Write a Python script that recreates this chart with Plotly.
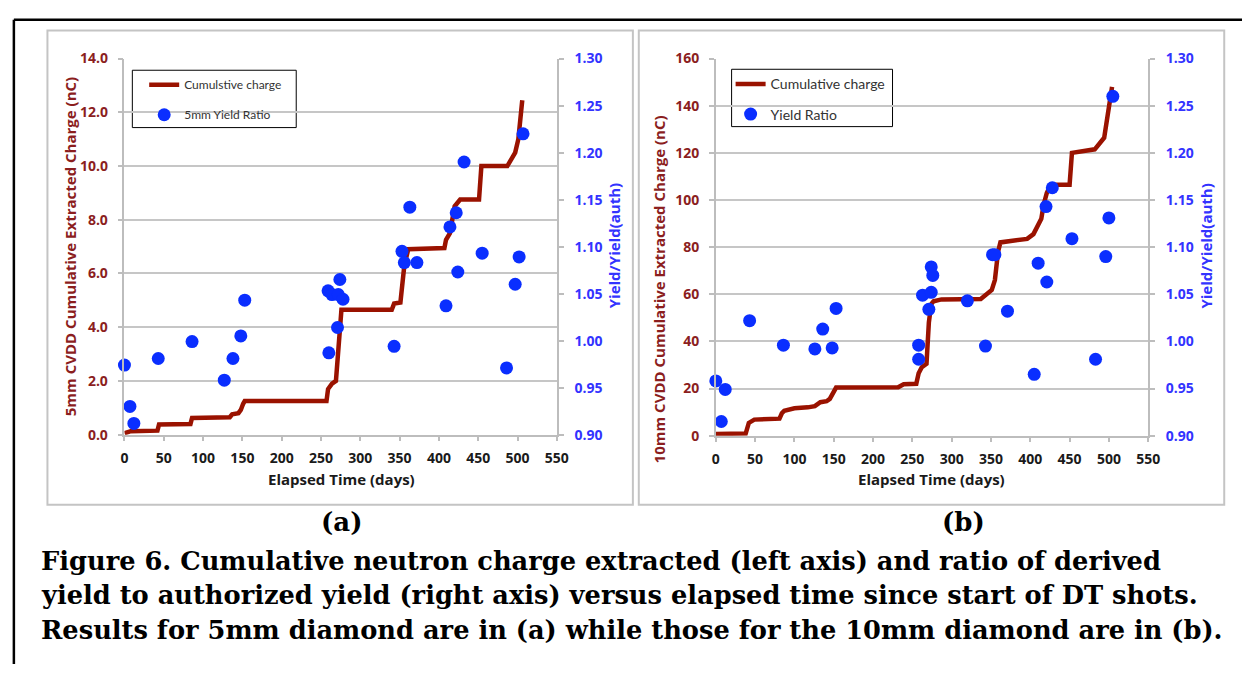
import plotly.graph_objects as go

W, H = 1254, 673

# ---------------- data: panel (a) 5mm ----------------
days_charge_a = [0, 8, 42, 44, 84, 86, 134, 137, 145, 148, 151, 153, 257, 259, 264, 269, 276,
                 340, 343, 351, 356, 361, 407, 409, 414, 417, 420, 427, 451, 454, 487, 497, 501, 506]
charge_a = [0.05, 0.13, 0.15, 0.38, 0.40, 0.62, 0.65, 0.76, 0.80, 0.92, 1.15, 1.25, 1.25, 1.70, 1.90, 2.00, 4.65,
            4.65, 4.88, 4.92, 6.30, 6.90, 6.95, 7.25, 7.50, 8.00, 8.50, 8.75, 8.75, 10.0, 10.0, 10.5, 11.0, 12.45]

days_ratio_a = [0, 7, 12, 43, 86, 127, 138, 148, 153, 259, 264, 274, 272, 278, 271, 260,
                343, 353, 356, 363, 372, 409, 414, 422, 424, 432, 455, 486, 497, 502, 507]
ratio_a = [0.974, 0.930, 0.912, 0.981, 0.999, 0.958, 0.981, 1.005, 1.043, 1.053, 1.049, 1.065, 1.049, 1.044,
           1.014, 0.987, 0.994, 1.095, 1.083, 1.142, 1.083, 1.037, 1.121, 1.136, 1.073, 1.190, 1.093,
           0.971, 1.060, 1.089, 1.220]

# ---------------- data: panel (b) 10mm ----------------
days_charge_b = [0, 38, 42, 49, 81, 84, 87, 100, 117, 126, 133, 141, 145, 153, 232, 239, 255, 258, 262, 268,
                 271, 274, 277, 287, 337, 341, 351, 355, 359, 362, 381, 396, 404, 409, 414, 417, 421, 426,
                 450, 453, 482, 494, 498, 504]
charge_b = [0.7, 0.9, 5.4, 6.8, 7.2, 9.5, 10.5, 11.6, 12.0, 12.5, 14.2, 14.6, 15.6, 20.4, 20.5, 21.8, 22.0, 26.5,
            29.0, 30.5, 48.0, 55.8, 57.0, 57.8, 58.0, 59.0, 61.8, 66.0, 78.0, 82.0, 83.0, 83.5, 85.5, 89.0,
            92.0, 98.0, 103.0, 106.5, 106.5, 120.0, 121.5, 126.4, 134.0, 148.0]

days_ratio_b = [0, 7, 12, 43, 86, 126, 136, 148, 153, 258, 258, 263, 274, 271, 274, 276, 320, 343, 352, 355,
                371, 405, 410, 420, 421, 428, 453, 483, 496, 500, 505]
ratio_b = [0.958, 0.915, 0.949, 1.022, 0.996, 0.992, 1.013, 0.993, 1.035, 0.996, 0.981, 1.049, 1.052, 1.034,
           1.079, 1.070, 1.043, 0.995, 1.092, 1.092, 1.032, 0.965, 1.083, 1.143, 1.063, 1.163, 1.109,
           0.981, 1.090, 1.131, 1.260]

x_ticks = list(range(0, 551, 50))

RED_LINE = "#9a1200"
RED_TXT = "#8b1e1e"
BLUE = "#0a2eff"
BLUE_TXT = "#3333ff"
GRID = "#c6c6c6"
AXL = "#bdbdbd"
FONT = "Open Sans"
LEG_FONT = "Lato"
CAP_FONT = "DejaVu Serif"


def px(x):
    return x / W


def py(y):
    return 1 - y / H


fig = go.Figure()

# panel (a)
fig.add_trace(go.Scatter(x=days_charge_a, y=charge_a, mode="lines", name="Cumulstive charge",
                         line=dict(color=RED_LINE, width=4.5), xaxis="x", yaxis="y",
                         legend="legend", legendgroup="a1", cliponaxis=False))
fig.add_trace(go.Scatter(x=days_ratio_a, y=ratio_a, mode="markers", name="5mm Yield Ratio",
                         marker=dict(color=BLUE, size=13), xaxis="x", yaxis="y2",
                         legend="legend", legendgroup="a2", cliponaxis=False))
# panel (b)
fig.add_trace(go.Scatter(x=days_charge_b, y=charge_b, mode="lines", name="Cumulative charge",
                         line=dict(color=RED_LINE, width=4.5), xaxis="x2", yaxis="y3",
                         legend="legend2", legendgroup="b1", cliponaxis=False))
fig.add_trace(go.Scatter(x=days_ratio_b, y=ratio_b, mode="markers", name="Yield Ratio",
                         marker=dict(color=BLUE, size=13), xaxis="x2", yaxis="y4",
                         legend="legend2", legendgroup="b2", cliponaxis=False))

xcommon = dict(range=[0, 550], tickvals=x_ticks, ticks="outside", ticklen=5, tickcolor=AXL, tickwidth=1.5,
               showline=True, linecolor=AXL, linewidth=1.5, showgrid=False, zeroline=False,
               ticklabelstandoff=5,
               tickfont=dict(family=FONT, size=14, color="#1a1a1a", weight="bold"), fixedrange=True)
ycommon = dict(ticks="outside", ticklen=5, tickcolor=AXL, tickwidth=1.5, showline=True, linecolor=AXL,
               linewidth=1.5, showgrid=True, gridcolor=GRID, gridwidth=1.5, zeroline=False,
               ticklabelstandoff=7,
               tickfont=dict(family=FONT, size=14, color=RED_TXT, weight="bold"))
y2common = dict(range=[0.9, 1.3], dtick=0.05, tickformat=".2f", side="right", showgrid=False,
                ticks="outside", ticklen=5, tickcolor=AXL, tickwidth=1.5, showline=True, linecolor=AXL,
                linewidth=1.5, zeroline=False, ticklabelstandoff=8,
                tickfont=dict(family=FONT, size=14, color=BLUE_TXT, weight="bold"))

fig.update_layout(
    width=W, height=H, margin=dict(l=0, r=0, t=0, b=0),
    paper_bgcolor="white", plot_bgcolor="white",
    xaxis=dict(domain=[px(122), px(560)], anchor="y", **xcommon),
    yaxis=dict(domain=[py(437), py(50)], range=[0, 14], dtick=2, tickformat=".1f", anchor="x", **ycommon),
    yaxis2=dict(overlaying="y", anchor="x", **y2common),
    xaxis2=dict(domain=[px(721), px(1159)], anchor="y3", **xcommon),
    yaxis3=dict(domain=[py(438), py(50)], range=[0, 160], dtick=20, anchor="x2", **ycommon),
    yaxis4=dict(overlaying="y3", anchor="x2", **y2common),
    legend=dict(x=px(142), y=py(62), xanchor="left", yanchor="top", bgcolor="rgba(0,0,0,0)",
                borderwidth=0, font=dict(family=LEG_FONT, size=12, color="#333333"),
                tracegroupgap=11, traceorder="grouped"),
    legend2=dict(x=px(736), y=py(60), xanchor="left", yanchor="top", bgcolor="rgba(0,0,0,0)",
                 borderwidth=0, font=dict(family=LEG_FONT, size=14, color="#333333"),
                 tracegroupgap=9, traceorder="grouped"),
    showlegend=True,
)

shapes = [
    # outer frame
    dict(type="line", xref="paper", yref="paper", x0=px(10), x1=1, y0=py(10), y1=py(10),
         line=dict(color="black", width=2.5)),
    dict(type="line", xref="paper", yref="paper", x0=px(10), x1=px(10), y0=py(10), y1=0,
         line=dict(color="black", width=2.5)),
    # chart boxes
    dict(type="rect", xref="paper", yref="paper", x0=px(44), x1=px(637), y0=py(509), y1=py(21),
         line=dict(color="#c4c4c4", width=2), layer="below"),
    dict(type="rect", xref="paper", yref="paper", x0=px(643), x1=px(1236), y0=py(509), y1=py(21),
         line=dict(color="#c4c4c4", width=2), layer="below"),
    # legend boxes
    dict(type="rect", xref="paper", yref="paper", x0=px(130), x1=px(296), y0=py(121), y1=py(62),
         line=dict(color="black", width=1), fillcolor="white", layer="below"),
    dict(type="rect", xref="paper", yref="paper", x0=px(737), x1=px(900), y0=py(120), y1=py(61),
         line=dict(color="black", width=1), fillcolor="white", layer="below"),
]
fig.update_layout(shapes=shapes)

ann = []


def add_text(text, x, y, size, color, angle=0, family=FONT, weight="bold", xanchor="center"):
    ann.append(dict(text=text, x=px(x), y=py(y), xref="paper", yref="paper", showarrow=False,
                    textangle=angle, xanchor=xanchor, yanchor="middle",
                    font=dict(family=family, size=size, color=color, weight=weight)))


add_text("5mm CVDD Cumulative Extracted Charge (nC)", 67, 244, 15, RED_TXT, -90)
add_text("Yield/Yield(auth)", 618, 243, 15, BLUE_TXT, -90)
add_text("Elapsed Time (days)", 342, 483, 15, "#1a1a1a")
add_text("10mm CVDD Cumulative Extracted Charge (nC)", 663, 288, 15, RED_TXT, -90)
add_text("Yield/Yield(auth)", 1218, 243, 15, BLUE_TXT, -90)
add_text("Elapsed Time (days)", 939, 483, 15, "#1a1a1a")

add_text("(a)", 342, 527, 26, "black", family=CAP_FONT)
add_text("(b)", 972, 527, 26, "black", family=CAP_FONT)
cap_lines = [
    "Figure 6. Cumulative neutron charge extracted (left axis) and ratio of derived",
    "yield to authorized yield (right axis) versus elapsed time since start of DT shots.",
    "Results for 5mm diamond are in (a) while those for the 10mm diamond are in (b).",
]
for i, t in enumerate(cap_lines):
    add_text(t, 35, 567 + i * 35.5, 25.7, "black", family=CAP_FONT, xanchor="left")

fig.update_layout(annotations=ann)

fig.write_html("out.html")
